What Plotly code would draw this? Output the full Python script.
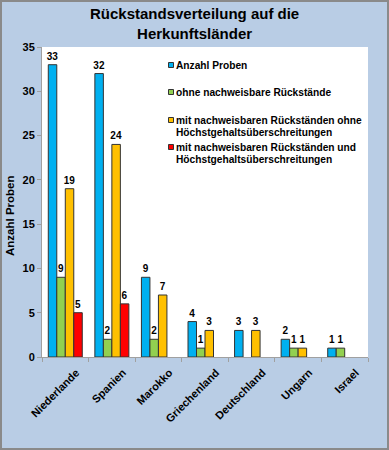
import plotly.graph_objects as go

categories = ["Niederlande", "Spanien", "Marokko", "Griechenland", "Deutschland", "Ungarn", "Israel"]
anzahl = [33, 32, 9, 4, 3, 2, 1]
ohne = [9, 2, 2, 1, None, 1, 1]
mit_ohne_hg = [19, 24, 7, 3, 3, 1, None]
mit_hg = [5, 6, None, None, None, None, None]

series_names = [
    ["Anzahl Proben"],
    ["ohne nachweisbare Rückstände"],
    ["mit nachweisbaren Rückständen ohne", "Höchstgehaltsüberschreitungen"],
    ["mit nachweisbaren Rückständen und", "Höchstgehaltsüberschreitungen"],
]
series_values = [anzahl, ohne, mit_ohne_hg, mit_hg]
series_colors = ["#00B0F0", "#92D050", "#FFC000", "#FF0000"]

font = "Liberation Sans, Arial, sans-serif"
L, R, T, B = 42, 21, 47, 93
W, H = 389, 450
pw, ph = W - L - R, H - T - B


def px_x(x):
    return (x - L) / pw


def px_y(y):
    return 1 - (y - T) / ph


fig = go.Figure()
for names, vals, col in zip(series_names, series_values, series_colors):
    fig.add_trace(go.Bar(
        x=categories, y=vals, name=" ".join(names), showlegend=False,
        marker=dict(color=col, line=dict(color="#333333", width=1)),
        text=[("" if v is None else str(v)) for v in vals],
        textposition="outside", cliponaxis=False, constraintext="none",
        textfont=dict(family=font, size=10, color="black", weight="bold"),
        hoverinfo="x+y+name",
    ))

fig.update_layout(
    width=W, height=H,
    margin=dict(l=L, r=R, t=T, b=B),
    paper_bgcolor="#B9CDE5", plot_bgcolor="white",
    barmode="group", bargap=0.27, bargroupgap=0,
    font=dict(family=font, color="black"),
    xaxis=dict(tickangle=-45, tickfont=dict(family=font, size=11, weight="bold"),
               showline=True, linecolor="#A0A0A0", ticks="outside", tickson="boundaries",
               ticklen=4, tickcolor="#A0A0A0", ticklabelshift=11, ticklabelstandoff=4),
    yaxis=dict(range=[0, 35], dtick=5, showgrid=False, zeroline=False,
               showline=True, linecolor="#A0A0A0", ticks="outside", ticklen=4, tickcolor="#A0A0A0",
               tickfont=dict(family=font, size=11, weight="bold")),
    showlegend=False,
)

# title
fig.add_annotation(text="<b>Rückstandsverteilung auf die<br>Herkunftsländer</b>",
                   xref="paper", yref="paper", x=px_x(W / 2), y=px_y(24),
                   xanchor="center", yanchor="middle", showarrow=False,
                   font=dict(family=font, size=15, color="black"))

# y-axis title
fig.add_annotation(text="<b>Anzahl Proben</b>", textangle=-90,
                   xref="paper", yref="paper", x=px_x(10), y=px_y(216),
                   xanchor="center", yanchor="middle", showarrow=False,
                   font=dict(family=font, size=11.5, color="black"))

# legend (inside plot area, top right)
legend_rows = [65, 92, 120, 147]
line_gap = 12
for names, col, yc in zip(series_names, series_colors, legend_rows):
    fig.add_shape(type="rect", xref="paper", yref="paper",
                  x0=px_x(168.5), x1=px_x(173.5), y0=px_y(yc + 2.5), y1=px_y(yc - 2.5),
                  fillcolor=col, line=dict(color="#333333", width=1))
    for k, line in enumerate(names):
        fig.add_annotation(text=line, xref="paper", yref="paper",
                           x=px_x(174), y=px_y(yc + k * line_gap),
                           xanchor="left", yanchor="middle", showarrow=False,
                           font=dict(family=font, size=10.2, color="black", weight="bold"))

# outer border
fig.add_shape(type="rect", xref="paper", yref="paper",
              x0=-(L - 1) / pw, x1=1 + (R - 1) / pw, y0=-(B - 1) / ph, y1=1 + (T - 1) / ph,
              line=dict(color="#8A8A8A", width=2), layer="above")

fig.write_html("out.html", config={"displayModeBar": False},
               post_script="document.body.style.margin='0';document.body.style.overflow='hidden';")
